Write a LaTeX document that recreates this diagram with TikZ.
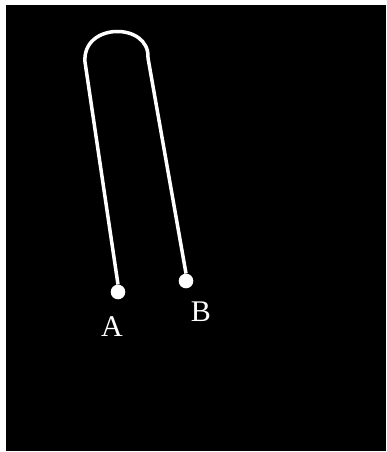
\documentclass[tikz,border=0pt]{standalone}
\usepackage{fontspec}
\setmainfont{Liberation Serif}
\begin{document}
\begin{tikzpicture}[x=1pt,y=-1pt,
  dot/.style={circle,fill=white,draw=none,minimum size=14.6pt,inner sep=0pt},
  lbl/.style={text=white,inner sep=0pt,font=\fontsize{30}{36}\selectfont},
  wire/.style={draw=white,line width=3.5pt}]
\fill[white] (0,0) rectangle (386,452);
\fill[black] (6,5) rectangle (386,451);
\useasboundingbox (0,0) rectangle (386,452);
\node[dot] (dA) at (118,292) {};
\node[dot] (dB) at (186,281) {};
\node[lbl] (lA) at (112,327) {A};
\node[lbl] (lB) at (201,312) {B};
\coordinate (tl) at (85,62);
\coordinate (tr) at (148,58);
\draw[wire] (dA.north) -- (tl) .. controls (82,22) and (150,22) .. (tr) -- (dB.north);
\end{tikzpicture}
\end{document}
